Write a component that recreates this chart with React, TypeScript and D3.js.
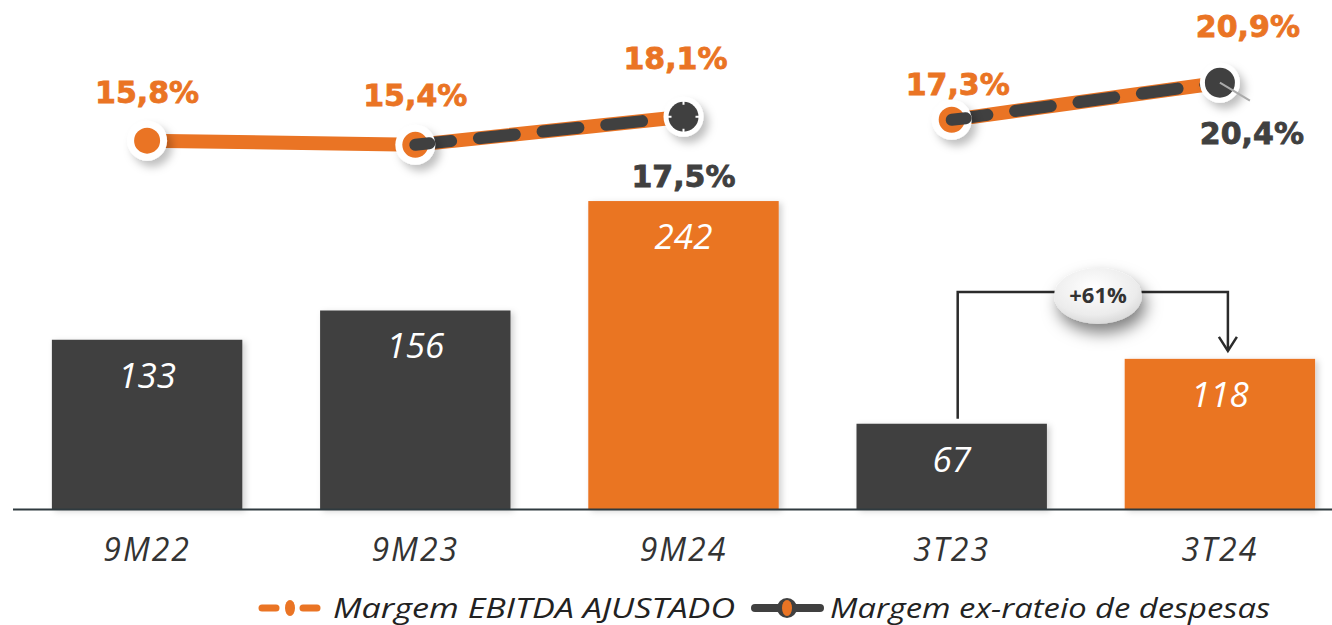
import React from 'react';
import * as d3 from 'd3';

const categories = ['9M22', '9M23', '9M24', '3T23', '3T24'];
const barValues = [133, 156, 242, 67, 118];
const barHighlight = [false, false, true, false, true];
const ebitdaMargin = [15.8, 15.4, 18.1, 17.3, 20.9];
const ebitdaLabels = ['15,8%', '15,4%', '18,1%', '17,3%', '20,9%'];
const exRateioLabels = ['', '', '17,5%', '', '20,4%'];
const growthLabel = '+61%';
const legendLabels = ['Margem EBITDA AJUSTADO', 'Margem ex-rateio de despesas'];

const W = 1332;
const H = 625;
const ORANGE = '#EA7424';
const DARK = '#404040';

const App = () => {
  const x = d3.scaleBand<string>()
    .domain(categories)
    .range([13, 1354])
    .paddingInner(0.29)
    .paddingOuter(0.145);

  const y = d3.scaleLinear().domain([0, 400]).range([509, 0]);

  // the two line groups were drawn on separate panels, slight offset
  const y9M = d3.scaleLinear().domain([15, 20]).range([149, 97]);
  const y3T = d3.scaleLinear().domain([15, 20]).range([143.5, 92]);
  const groups = [[0, 1, 2], [3, 4]];
  const py = (i: number) => (i < 3 ? y9M : y3T)(ebitdaMargin[i]);
  const cx = (i: number) => x(categories[i])! + x.bandwidth() / 2;

  const lineGen = d3.line<number>().x(i => cx(i)).y(i => py(i));

  const orangeLabelOffset = [[0, -38], [0, -39], [-8, -48], [6, -25], [28, -46]];
  const darkLabelOffset = [[0, 0], [0, 0], [0, 70], [0, 0], [32, 61]];

  const bracketY = 292;
  const x3T23 = cx(3) + 6;
  const x3T24 = cx(4) + 8;

  const boldText = {
    fontFamily: "'DejaVu Sans', sans-serif",
    fontWeight: 700,
    fontSize: 30,
    strokeWidth: 0.8,
  };

  return (
    <svg width={W} height={H} style={{ display: 'block', position: 'absolute', left: 0, top: 0 }}>
      <defs>
        <filter id="shadow" x="-40%" y="-40%" width="190%" height="190%">
          <feDropShadow dx="5" dy="6" stdDeviation="4" floodColor="#000" floodOpacity="0.25" />
        </filter>
        <filter id="barShadow" x="-10%" y="-10%" width="120%" height="120%">
          <feDropShadow dx="3" dy="2" stdDeviation="3" floodColor="#000" floodOpacity="0.18" />
        </filter>
        <radialGradient id="bubble" cx="45%" cy="35%" r="70%">
          <stop offset="0%" stopColor="#ffffff" />
          <stop offset="70%" stopColor="#ececec" />
          <stop offset="100%" stopColor="#d4d4d4" />
        </radialGradient>
        <filter id="bubbleShadow" x="-50%" y="-50%" width="200%" height="230%">
          <feDropShadow dx="4" dy="9" stdDeviation="8" floodColor="#000" floodOpacity="0.5" />
        </filter>
      </defs>

      {/* bars */}
      {categories.map((c, i) => (
        <rect key={c} x={x(c)} y={y(barValues[i])} width={x.bandwidth()}
          height={y(0) - y(barValues[i])}
          fill={barHighlight[i] ? ORANGE : DARK} filter="url(#barShadow)" />
      ))}
      <line x1={13} x2={W} y1={y(0) + 0.5} y2={y(0) + 0.5} stroke="#2f3a3f" strokeWidth={2} />

      {categories.map((c, i) => (
        <text key={c} x={cx(i)} y={y(barValues[i]) + 48} textAnchor="middle"
          fontFamily="'Open Sans', sans-serif" fontStyle="italic" fontWeight={400}
          fontSize={35} fill="#fff">{barValues[i]}</text>
      ))}

      {/* category axis */}
      {categories.map((c, i) => (
        <text key={c} x={cx(i)} y={561} textAnchor="middle"
          fontFamily="'Open Sans', sans-serif" fontStyle="italic" fontSize={32}
          letterSpacing={2} fill="#333">{c}</text>
      ))}

      {/* growth bracket */}
      <path d={`M${x3T23},${y(67) - 5} V${bracketY} H${x3T24} V${y(118) - 8}`}
        fill="none" stroke="#2b2b2b" strokeWidth={2.5} />
      <path d={`M${x3T24 - 9},${y(118) - 22} L${x3T24},${y(118) - 8} L${x3T24 + 9},${y(118) - 22}`}
        fill="none" stroke="#2b2b2b" strokeWidth={2.5} />
      <ellipse cx={1098} cy={bracketY + 4} rx={44} ry={28} fill="url(#bubble)" filter="url(#bubbleShadow)" />
      <text x={1098} y={bracketY + 11} textAnchor="middle" fontFamily="'Open Sans', sans-serif"
        fontWeight={700} fontSize={22} fill="#333">{growthLabel}</text>

      {/* lines */}
      {groups.map((g, k) => (
        <g key={k}>
          <path d={lineGen(g)!} fill="none" stroke={ORANGE} strokeWidth={14} />
          <path d={lineGen(g.slice(-2))!} fill="none" stroke={DARK} strokeWidth={12}
            strokeLinecap="round" strokeDasharray="36 28" />
        </g>
      ))}

      {/* markers */}
      {categories.map((c, i) => {
        const mx = cx(i);
        const my = py(i);
        const darkEnd = i === 2 || i === 4;
        const darkStart = i === 1 || i === 3;
        return (
          <g key={c}>
            <circle cx={mx} cy={my} r={20} fill="#fff" filter="url(#shadow)" />
            {!darkEnd && <circle cx={mx} cy={my} r={13} fill={ORANGE} />}
            {darkStart && <path d={`M${mx},${my} L${mx + 14},${my - 1.5}`} stroke={DARK}
              strokeWidth={12} strokeLinecap="round" />}
            {darkEnd && <circle cx={mx} cy={my} r={15} fill={DARK} />}
            {i === 2 && (
              <g stroke="#fff" strokeWidth={2}>
                <line x1={mx - 16} x2={mx - 12} y1={my} y2={my} />
                <line x1={mx + 12} x2={mx + 16} y1={my} y2={my} />
                <line x1={mx} x2={mx} y1={my - 16} y2={my - 12} />
                <line x1={mx} x2={mx} y1={my + 12} y2={my + 16} />
              </g>
            )}
            {i === 4 && <line x1={mx} y1={my} x2={mx + 30} y2={my + 18} stroke="#aaa" strokeWidth={2} />}
          </g>
        );
      })}

      {/* labels */}
      {categories.map((c, i) => (
        <text key={c} x={cx(i) + orangeLabelOffset[i][0]} y={py(i) + orangeLabelOffset[i][1]}
          textAnchor="middle" {...boldText} fill={ORANGE} stroke={ORANGE}>{ebitdaLabels[i]}</text>
      ))}
      {categories.map((c, i) => exRateioLabels[i] && (
        <text key={c} x={cx(i) + darkLabelOffset[i][0]} y={py(i) + darkLabelOffset[i][1]}
          textAnchor="middle" {...boldText} fill={DARK} stroke={DARK}>{exRateioLabels[i]}</text>
      ))}

      {/* legend */}
      <g transform="translate(0,608)">
        <line x1={262} x2={276} y1={0} y2={0} stroke={ORANGE} strokeWidth={7} strokeLinecap="round" />
        <line x1={303} x2={317} y1={0} y2={0} stroke={ORANGE} strokeWidth={7} strokeLinecap="round" />
        <ellipse cx={290} cy={0} rx={5} ry={8} fill={ORANGE} />
        <text x={333} y={10} fontFamily="'Open Sans', sans-serif" fontStyle="italic"
          fontSize={27} fill="#222" textLength={402} lengthAdjust="spacingAndGlyphs">{legendLabels[0]}</text>
        <line x1={755} x2={820} y1={0} y2={0} stroke={DARK} strokeWidth={8} strokeLinecap="round" />
        <circle cx={787} cy={0} r={10} fill={DARK} />
        <ellipse cx={787} cy={0} rx={5} ry={8} fill={ORANGE} />
        <text x={830} y={10} fontFamily="'Open Sans', sans-serif" fontStyle="italic"
          fontSize={27} fill="#222" textLength={440} lengthAdjust="spacingAndGlyphs">{legendLabels[1]}</text>
      </g>
    </svg>
  );
};

export default App;
